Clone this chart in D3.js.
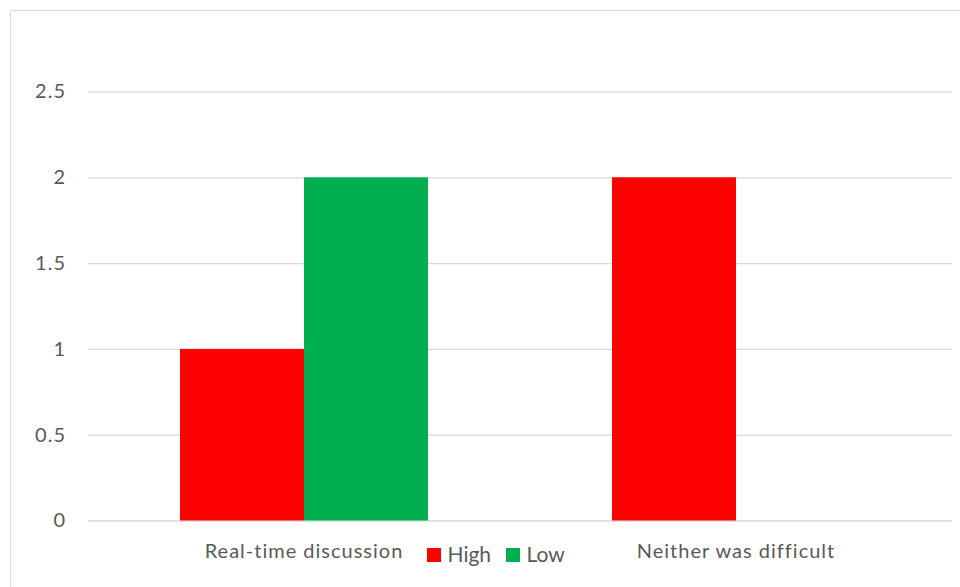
<!DOCTYPE html>
<html>
<head>
<meta charset="utf-8">
<script src="https://cdn.jsdelivr.net/npm/d3@7"></script>
<style>
  html, body { margin: 0; padding: 0; background: #fff; }
  svg { display: block; font-family: Lato, "Open Sans", sans-serif; }
</style>
</head>
<body>
<svg id="chart" width="960" height="587"></svg>
<script>
// Chart data
const categories = ["Real-time discussion", "Neither was difficult"];
const seriesNames = ["High", "Low"];
const highValues = [1, 2];
const lowValues = [2, 0];
const yTicks = [0, 0.5, 1, 1.5, 2, 2.5];
const seriesColors = ["#FF0000", "#00B050"];

const svg = d3.select("#chart");
const W = 960, H = 587;
const plot = { left: 88, right: 952, top: 91.5, bottom: 520.5 };
const textColor = "#595959";
const gridColor = "#D9D9D9";
const fontFamily = "Lato, 'Open Sans', sans-serif";
const fontSize = 20;

// Chart frame
svg.append("path")
  .attr("d", `M${W + 2},10.5 H10.5 V${H + 2}`)
  .attr("fill", "none")
  .attr("stroke", gridColor)
  .attr("stroke-width", 1);

const x0 = d3.scaleBand().domain(categories).range([plot.left, plot.right]).padding(0);
const x1 = d3.scaleBand().domain(seriesNames).range([0, x0.bandwidth()])
  .paddingInner(0).paddingOuter(0.742);
const y = d3.scaleLinear().domain([0, 2.5]).range([plot.bottom, plot.top]);
const color = d3.scaleOrdinal().domain(seriesNames).range(seriesColors);

// Gridlines and value labels
const yAxis = d3.axisLeft(y).tickValues(yTicks).tickSize(-(plot.right - plot.left))
  .tickPadding(22).tickFormat(d3.format("~g"));
const yg = svg.append("g").attr("transform", `translate(${plot.left},0)`).call(yAxis);
yg.select(".domain").remove();
yg.selectAll(".tick line").attr("stroke", gridColor).attr("stroke-width", 1.3);
yg.selectAll(".tick text").attr("fill", textColor).attr("font-size", fontSize)
  .attr("font-family", fontFamily).attr("letter-spacing", 1);

// Bars
const rows = categories.map((c, i) => ({ category: c, values: [
  { series: "High", value: highValues[i] },
  { series: "Low", value: lowValues[i] }
]}));

const groups = svg.append("g").selectAll("g").data(rows).join("g")
  .attr("transform", d => `translate(${x0(d.category)},0)`);
groups.selectAll("rect").data(d => d.values.filter(v => v.value > 0)).join("rect")
  .attr("x", d => x1(d.series))
  .attr("width", x1.bandwidth())
  .attr("y", d => y(d.value))
  .attr("height", d => y(0) - y(d.value))
  .attr("fill", d => color(d.series));

// Category labels
const xAxis = d3.axisBottom(x0).tickSize(0).tickPadding(23);
const xg = svg.append("g").attr("transform", `translate(0,${plot.bottom})`).call(xAxis);
xg.select(".domain").remove();
xg.selectAll(".tick text").attr("fill", textColor).attr("font-size", fontSize)
  .attr("font-family", fontFamily).attr("letter-spacing", 1);

// Legend
const legend = svg.append("g").attr("transform", "translate(427,548)");
const legendX = [0, 79];
const items = legend.selectAll("g").data(seriesNames).join("g")
  .attr("transform", (d, i) => `translate(${legendX[i]},0)`);
items.append("rect").attr("width", 14).attr("height", 14).attr("fill", d => color(d));
items.append("text").attr("x", 20.5).attr("y", 14.3)
  .attr("fill", textColor).attr("font-size", 21).attr("font-family", fontFamily)
  .text(d => d);
</script>
</body>
</html>
